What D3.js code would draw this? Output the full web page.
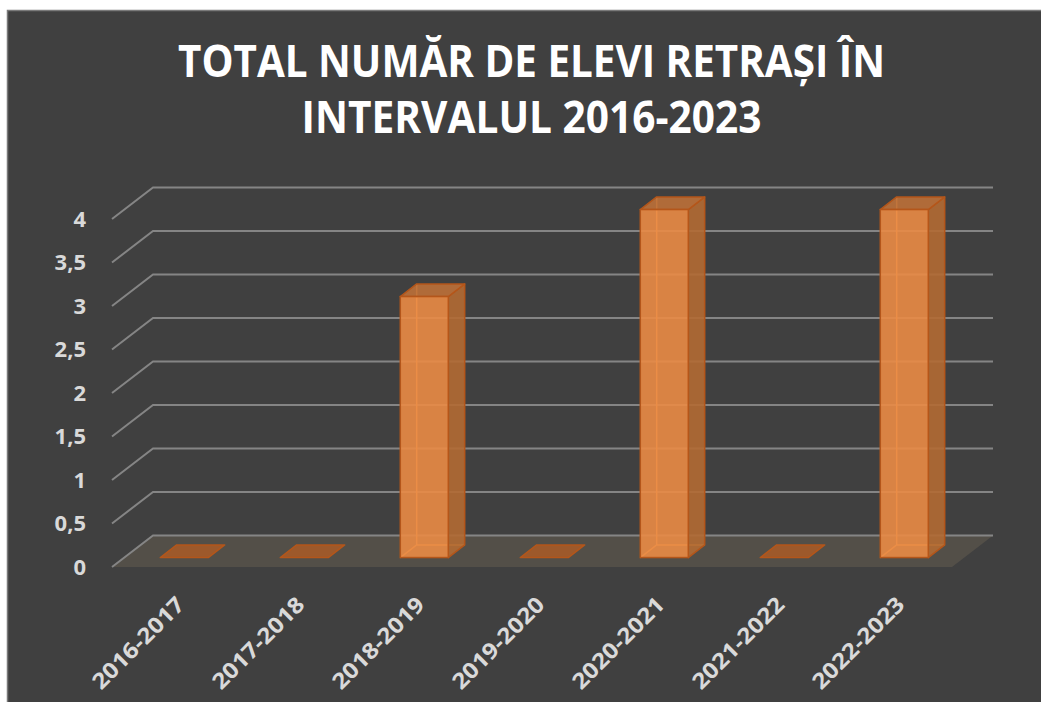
<!DOCTYPE html>
<html>
<head>
<meta charset="utf-8">
<script src="https://cdn.jsdelivr.net/npm/d3@7"></script>
<style>
  body { margin: 0; background: #fff; }
  svg { display: block; }
</style>
</head>
<body>
<div id="chart"></div>
<script>
"use strict";
// data
var years = ["2016-2017", "2017-2018", "2018-2019", "2019-2020", "2020-2021", "2021-2022", "2022-2023"];
var retrasi = [0, 0, 3, 0, 4, 0, 4];
var yTicks = [0, 0.5, 1, 1.5, 2, 2.5, 3, 3.5, 4];
var titleLines = ["TOTAL NUMĂR DE ELEVI RETRAȘI ÎN", "INTERVALUL 2016-2023"];

var w = 1041, h = 702;
var font = "'Open Sans', Lato, sans-serif";
// oblique depth of the floor
var depthX = 41, depthY = 31.5;
// bars occupy this slice of the depth
var barD0 = 0.3, barD1 = 0.7;

var svg = d3.select("#chart").append("svg").attr("width", w).attr("height", h);

svg.append("rect")
  .attr("x", 7.5).attr("y", 10.5)
  .attr("width", w).attr("height", h)
  .attr("fill", "#404040")
  .attr("stroke", "#7a7a7a")
  .attr("stroke-width", 1.5);

var x = d3.scaleBand().domain(years).range([112, 952]);
var y = d3.scaleLinear().domain([0, 4]).range([567, 219]);

function pts(arr) {
  return arr.map(function(p) { return p[0] + "," + p[1]; }).join(" ");
}

// floor
var floorY = y(0);
svg.append("polygon")
  .attr("points", pts([
    [x.range()[0], floorY], [x.range()[1], floorY],
    [x.range()[1] + depthX, floorY - depthY], [x.range()[0] + depthX, floorY - depthY]
  ]))
  .attr("fill", "#534f48");

// gridlines (left wall diagonal + back line)
svg.append("g").selectAll("path")
  .data(yTicks)
  .join("path")
  .attr("d", function(d) {
    var fy = y(d);
    return "M" + x.range()[0] + "," + fy +
      "L" + (x.range()[0] + depthX) + "," + (fy - depthY) +
      "L" + (x.range()[1] + depthX) + "," + (fy - depthY);
  })
  .attr("fill", "none")
  .attr("stroke", "#858585")
  .attr("stroke-width", 2);

// y labels
svg.append("g").selectAll("text")
  .data(yTicks)
  .join("text")
  .attr("x", 86)
  .attr("y", function(d) { return y(d); })
  .attr("dy", "0.36em")
  .attr("text-anchor", "end")
  .attr("font-family", font)
  .attr("font-weight", 700)
  .attr("font-size", 22)
  .attr("fill", "#d9d9d9")
  .text(function(d) { return String(d).replace(".", ","); });

// bars
var barW = 48;
var bdx = depthX * (barD1 - barD0), bdy = depthY * (barD1 - barD0);
var bars = svg.append("g").selectAll("g")
  .data(years.map(function(c, i) { return { cat: c, val: retrasi[i] }; }))
  .join("g");

bars.each(function(d) {
  var g = d3.select(this);
  var x0 = x(d.cat) + (x.bandwidth() - barW) / 2 + depthX * barD0;
  var x1 = x0 + barW;
  var yb = y(0) - depthY * barD0;
  var yt = yb - (y(0) - y(d.val));
  var stroke = "#b4561a";

  if (d.val === 0) {
    g.append("polygon")
      .attr("points", pts([[x0, yb], [x1, yb], [x1 + bdx, yb - bdy], [x0 + bdx, yb - bdy]]))
      .attr("fill", "#a55a28")
      .attr("fill-opacity", 0.9)
      .attr("stroke", stroke)
      .attr("stroke-width", 1.5)
      .attr("stroke-linejoin", "round");
    return;
  }
  // hidden back edges seen through the faces
  g.append("path")
    .attr("d", "M" + (x0 + bdx) + "," + (yt - bdy) + "L" + (x0 + bdx) + "," + (yb - bdy) +
      "L" + x0 + "," + yb + "M" + (x0 + bdx) + "," + (yb - bdy) + "L" + (x1 + bdx) + "," + (yb - bdy))
    .attr("fill", "none")
    .attr("stroke", "#f0a050")
    .attr("stroke-width", 1.5);
  // side face
  g.append("polygon")
    .attr("points", pts([[x1, yb], [x1 + bdx, yb - bdy], [x1 + bdx, yt - bdy], [x1, yt]]))
    .attr("fill", "#b36a33")
    .attr("fill-opacity", 0.9)
    .attr("stroke", stroke).attr("stroke-width", 1.5).attr("stroke-linejoin", "round");
  // top face
  g.append("polygon")
    .attr("points", pts([[x0, yt], [x1, yt], [x1 + bdx, yt - bdy], [x0 + bdx, yt - bdy]]))
    .attr("fill", "#bd7038")
    .attr("fill-opacity", 0.9)
    .attr("stroke", stroke).attr("stroke-width", 1.5).attr("stroke-linejoin", "round");
  // front face
  g.append("rect")
    .attr("x", x0).attr("y", yt)
    .attr("width", barW).attr("height", yb - yt)
    .attr("fill", "#ea8b45")
    .attr("fill-opacity", 0.9)
    .attr("stroke", stroke).attr("stroke-width", 1.5);
});

// x labels, rotated
svg.append("g").selectAll("text")
  .data(years)
  .join("text")
  .attr("transform", function(d) {
    return "translate(" + (x(d) + x.bandwidth() / 2 + 14) + ",606) rotate(-45)";
  })
  .attr("text-anchor", "end")
  .attr("textLength", 120)
  .attr("lengthAdjust", "spacingAndGlyphs")
  .attr("font-family", font)
  .attr("font-weight", 700)
  .attr("font-size", 22)
  .attr("fill", "#d9d9d9")
  .text(function(d) { return d; });

// title
var titleW = [707, 460];
svg.append("g").selectAll("text")
  .data(titleLines)
  .join("text")
  .attr("x", function(d, i) { return 531.5 - titleW[i] / 2; })
  .attr("y", function(d, i) { return 77 + i * 56; })
  .attr("textLength", function(d, i) { return titleW[i]; })
  .attr("lengthAdjust", "spacingAndGlyphs")
  .attr("font-family", font)
  .attr("font-weight", 700)
  .attr("font-size", 45)
  .attr("fill", "#ffffff")
  .text(function(d) { return d; });
</script>
</body>
</html>
